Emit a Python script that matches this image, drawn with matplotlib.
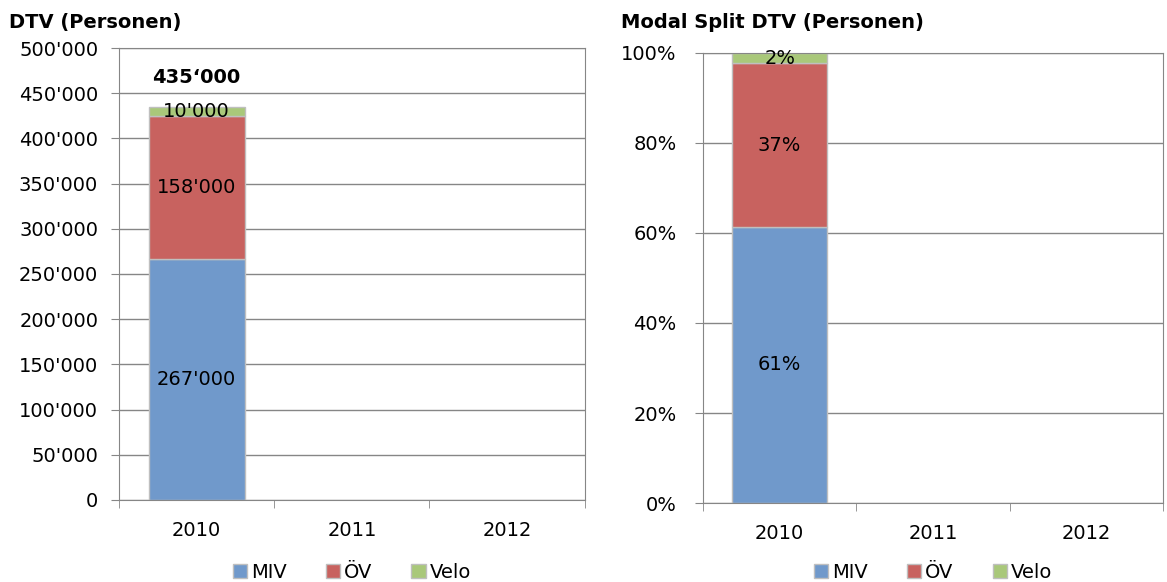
import numpy as np
import matplotlib
matplotlib.use('Agg')
from matplotlib import pyplot as plt
from matplotlib.patches import Patch

# data
years = ['2010', '2011', '2012']
series = ['MIV', 'ÖV', 'Velo']
miv = [267000, np.nan, np.nan]
oev = [158000, np.nan, np.nan]
velo = [10000, np.nan, np.nan]
total_label = '435\u2018000'
dtv_labels = [["267'000", "158'000", "10'000"]]
share_labels = [['61%', '37%', '2%']]

colors = ['#7099CB', '#C8625F', '#A9C87A']
edge = '#BFBFBF'
grid = '#868686'
fs = 14

plt.rcParams['font.family'] = ['DejaVu Sans']

fig = plt.figure(figsize=(11.67, 5.82), dpi=100)
ax1 = fig.add_axes([0.102, 0.141, 0.399, 0.7765])
ax2 = fig.add_axes([0.6024, 0.1357, 0.3942, 0.7733])

x = np.arange(len(years))
w = 0.62

def style(ax, ypad):
    ax.set_xlim(-0.5, 2.5)
    ax.set_xticks(x)
    ax.set_xticklabels(years, fontsize=fs)
    ax.set_xticks([-0.5, 0.5, 1.5, 2.5], minor=True)
    ax.tick_params(axis='x', which='major', length=0, pad=15)
    ax.tick_params(axis='x', which='minor', length=6, color=grid, direction='out')
    ax.tick_params(axis='y', length=6, color=grid, labelsize=fs, pad=ypad)
    ax.grid(axis='y', color=grid, lw=1)
    ax.set_axisbelow(True)
    for s in ax.spines.values():
        s.set_color(grid)
    ax.legend(handles=[Patch(facecolor=c, edgecolor=edge, label=l) for c, l in zip(colors, series)],
              loc='center', bbox_to_anchor=(ax.get_position().x0 + ax.get_position().width / 2, 0.017),
              bbox_transform=fig.transFigure, ncol=3, frameon=False,
              fontsize=fs, handlelength=0.75, handleheight=0.75, handletextpad=0.2,
              columnspacing=2.0, borderaxespad=0, borderpad=0)

# left: absolute values
bottom = np.zeros(len(years))
for vals, c in zip([miv, oev, velo], colors):
    v = np.array(vals, dtype=float)
    ax1.bar(x, v, w, bottom=bottom, color=c, edgecolor=edge, lw=1)
    bottom = bottom + np.nan_to_num(v)
ax1.set_ylim(0, 500000)
ax1.set_yticks(np.arange(0, 500001, 50000))
ax1.set_yticklabels([f"{t:,}".replace(',', "'") if t else '0' for t in range(0, 500001, 50000)])
style(ax1, 9)

b = 0
for i, vals in enumerate([miv, oev, velo]):
    ax1.text(x[0], b + vals[0] / 2, dtv_labels[0][i], ha='center', va='center', fontsize=fs)
    b += vals[0]
ax1.text(x[0], b + 32000, total_label, ha='center', va='center', fontsize=fs, fontweight='bold')

# right: modal split
tot = miv[0] + oev[0] + velo[0]
bottom = np.zeros(len(years))
for vals, c in zip([miv, oev, velo], colors):
    v = np.array(vals, dtype=float) / tot
    ax2.bar(x, v, w, bottom=bottom, color=c, edgecolor=edge, lw=1)
    bottom = bottom + np.nan_to_num(v)
ax2.set_ylim(0, 1)
ax2.set_yticks(np.arange(0, 1.01, 0.2))
ax2.set_yticklabels([f'{int(round(t * 100))}%' for t in np.arange(0, 1.01, 0.2)])
style(ax2, 13)

b = 0
for i, vals in enumerate([miv, oev, velo]):
    s = vals[0] / tot
    ax2.text(x[0], b + s / 2, share_labels[0][i], ha='center', va='center', fontsize=fs)
    b += s

fig.text(0.008, 0.962, 'DTV (Personen)', fontsize=fs, fontweight='bold', va='center')
fig.text(0.532, 0.962, 'Modal Split DTV (Personen)', fontsize=fs, fontweight='bold', va='center')

fig.savefig('out.png', dpi=100)
